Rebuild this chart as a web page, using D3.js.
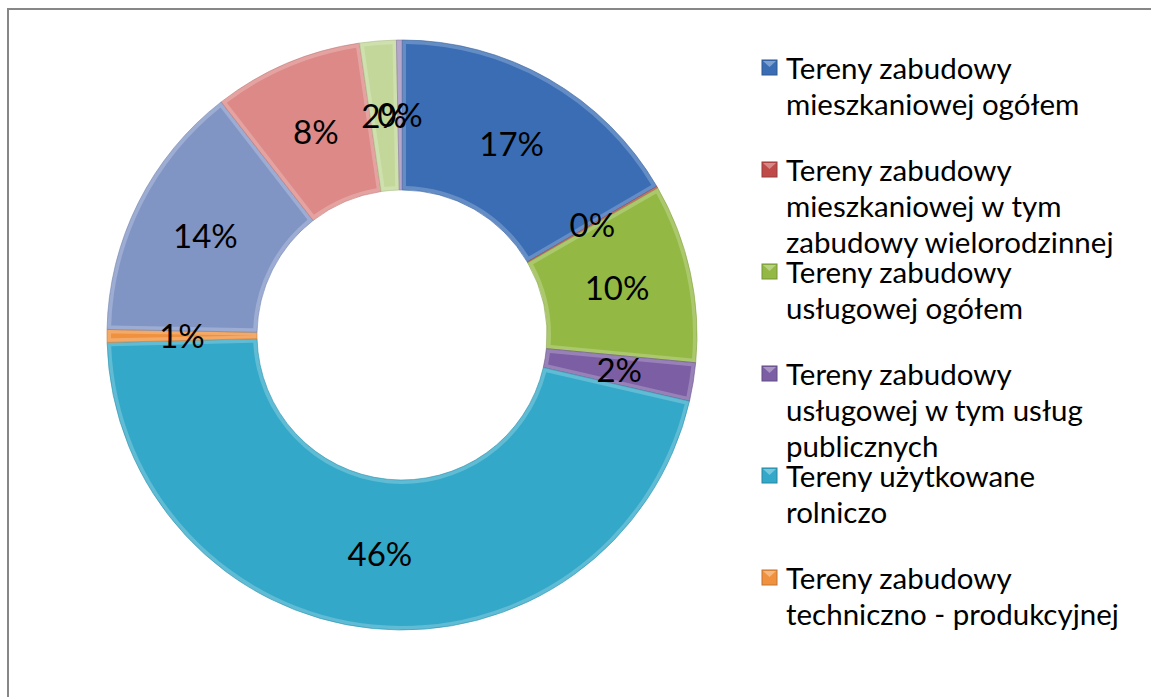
<!DOCTYPE html>
<html>
<head>
<meta charset="utf-8">
<script src="https://cdn.jsdelivr.net/npm/d3@7"></script>
<style>
  html, body { margin: 0; padding: 0; background: #fff; }
  svg { display: block; }
</style>
</head>
<body>
<script>
// share of each land-use category (percent), clockwise from 12 o'clock
const categories = [
  "Tereny zabudowy mieszkaniowej ogółem",
  "Tereny zabudowy mieszkaniowej w tym zabudowy wielorodzinnej",
  "Tereny zabudowy usługowej ogółem",
  "Tereny zabudowy usługowej w tym usług publicznych",
  "Tereny użytkowane rolniczo",
  "Tereny zabudowy techniczno - produkcyjnej",
  "Kategoria 7",
  "Kategoria 8",
  "Kategoria 9",
  "Kategoria 10"
];
const values = [16.6, 0.1, 9.8, 2.1, 46.0, 0.7, 14.2, 8.2, 2.0, 0.3];
const colors = ["#3a6db4", "#be4b48", "#93b844", "#7b5ea3", "#33a8c8",
                "#ef913e", "#8195c5", "#dc8987", "#c2d799", "#a08dbd"];

// legend only shows the first six entries, wrapped as in the original
const legendLines = [
  ["Tereny zabudowy", "mieszkaniowej ogółem"],
  ["Tereny zabudowy", "mieszkaniowej w tym", "zabudowy wielorodzinnej"],
  ["Tereny zabudowy", "usługowej ogółem"],
  ["Tereny zabudowy", "usługowej w tym usług", "publicznych"],
  ["Tereny użytkowane", "rolniczo"],
  ["Tereny zabudowy", "techniczno - produkcyjnej"]
];

const width = 1151, height = 697;
const cx = 402, cy = 335, outerR = 295, innerR = 145;

const svg = d3.select("body").append("svg")
  .attr("width", width)
  .attr("height", height);

// chart frame (runs off the right and bottom edge)
svg.append("rect")
  .attr("x", 8).attr("y", 9)
  .attr("width", width + 20).attr("height", height + 20)
  .attr("fill", "#fff")
  .attr("stroke", "#878787")
  .attr("stroke-width", 2);

const data = categories.map((c, i) => ({ name: c, value: values[i], color: colors[i] }));
const total = d3.sum(values);

const pie = d3.pie().sort(null).value(d => d.value);
const arcs = pie(data);

const arcOuter = d3.arc().innerRadius(innerR).outerRadius(outerR);
const bevel = 4;
const arcInner = d3.arc()
  .innerRadius(innerR + bevel)
  .outerRadius(outerR - bevel)
  .padAngle(2 * bevel / Math.sqrt(innerR * innerR + outerR * outerR));
const arcLabel = d3.arc().innerRadius((innerR + outerR) / 2).outerRadius((innerR + outerR) / 2);

const lighten = (c, t) => d3.interpolateRgb(c, "#ffffff")(t);

const g = svg.append("g").attr("transform", `translate(${cx},${cy})`);

const slice = g.selectAll("g.slice")
  .data(arcs)
  .enter().append("g")
  .attr("class", "slice");

// bevel edge: lighter rim, then the base colour inset
slice.append("path")
  .attr("d", arcOuter)
  .attr("fill", d => lighten(d.data.color, 0.22))
  .attr("stroke", d => d3.color(d.data.color).darker(0.4))
  .attr("stroke-width", 0.6);

slice.append("path")
  .attr("d", arcInner)
  .attr("fill", d => d.data.color);

// percentage labels
g.selectAll("text.pct")
  .data(arcs)
  .enter().append("text")
  .attr("class", "pct")
  .attr("transform", d => `translate(${arcLabel.centroid(d)})`)
  .attr("text-anchor", "middle")
  .attr("dy", "0.36em")
  .attr("font-family", "Lato, 'Open Sans', sans-serif")
  .attr("font-size", 33)
  .attr("fill", "#000")
  .text(d => Math.round(d.data.value / total * 100) + "%");

// legend
const legendX = 762, firstBaseline = 79, itemStep = 102, lineStep = 36;
const legend = svg.append("g").attr("class", "legend");

legendLines.forEach((lines, i) => {
  const base = firstBaseline + i * itemStep;
  const item = legend.append("g");
  item.append("rect")
    .attr("x", legendX).attr("y", base - 19)
    .attr("width", 15).attr("height", 15)
    .attr("fill", colors[i])
    .attr("stroke", d3.color(colors[i]).darker(0.6))
    .attr("stroke-width", 1);
  item.append("path")
    .attr("d", `M${legendX + 1},${base - 18}L${legendX + 14},${base - 18}L${legendX + 7.5},${base - 12}Z`)
    .attr("fill", lighten(colors[i], 0.35));
  item.selectAll("text")
    .data(lines)
    .enter().append("text")
    .attr("x", legendX + 24)
    .attr("y", (d, j) => base + j * lineStep)
    .attr("font-family", "Lato, 'Open Sans', sans-serif")
    .attr("font-size", 29.5)
    .attr("fill", "#000")
    .text(d => d);
});
</script>
</body>
</html>
